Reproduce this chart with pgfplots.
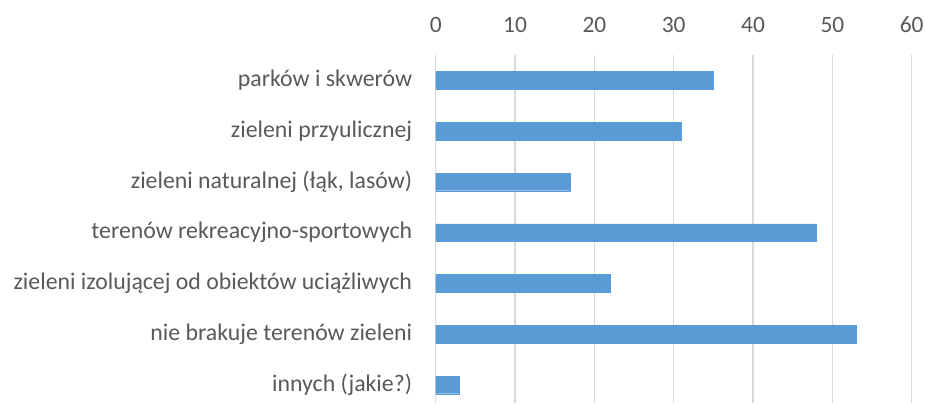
\documentclass[border=0pt]{standalone}
\usepackage{pgfplots}
\pgfplotsset{compat=1.18}
\usepackage{fontspec}
\setmainfont{Carlito}
\definecolor{barblue}{HTML}{5B9BD5}
\definecolor{gridgray}{HTML}{D9D9D9}
\definecolor{txtgray}{HTML}{595959}
\begin{document}
\begin{tikzpicture}[x=1bp,y=1bp]
\path[use as bounding box] (0,0) rectangle (925,403);
\begin{axis}[
  at={(435.7bp,0bp)}, anchor=south west,
  scale only axis, width=476bp, height=348bp,
  xmin=0, xmax=60, ymin=-0.5, ymax=6.357, y dir=reverse,
  xbar, bar width=17.7bp,
  axis line style={draw=none}, major tick length=0pt,
  xtick={0,10,...,60}, xticklabel pos=upper,
  xmajorgrids, grid style={gridgray, line width=1.5bp},
  ytick={0,...,6},
  yticklabels={parków i skwerów, zieleni przyulicznej, {zieleni naturalnej (łąk, lasów)}, terenów rekreacyjno-sportowych, zieleni izolującej od obiektów uciążliwych, nie brakuje terenów zieleni, innych (jakie?)},
  /pgf/number format/assume math mode=true,
  yticklabel style={font=\fontsize{23.9}{26}\selectfont, text=txtgray, anchor=east, inner sep=0pt, xshift=-23.4bp},
  xticklabel style={font=\fontsize{23.5}{26}\selectfont, text=txtgray, anchor=base, inner sep=0pt, yshift=22.7bp},
  clip=false,
]
\addplot[fill=barblue, draw=barblue] coordinates {(35,0) (31,1) (17,2) (48,3) (22,4) (53,5) (3,6)};
\end{axis}
\end{tikzpicture}
\end{document}
